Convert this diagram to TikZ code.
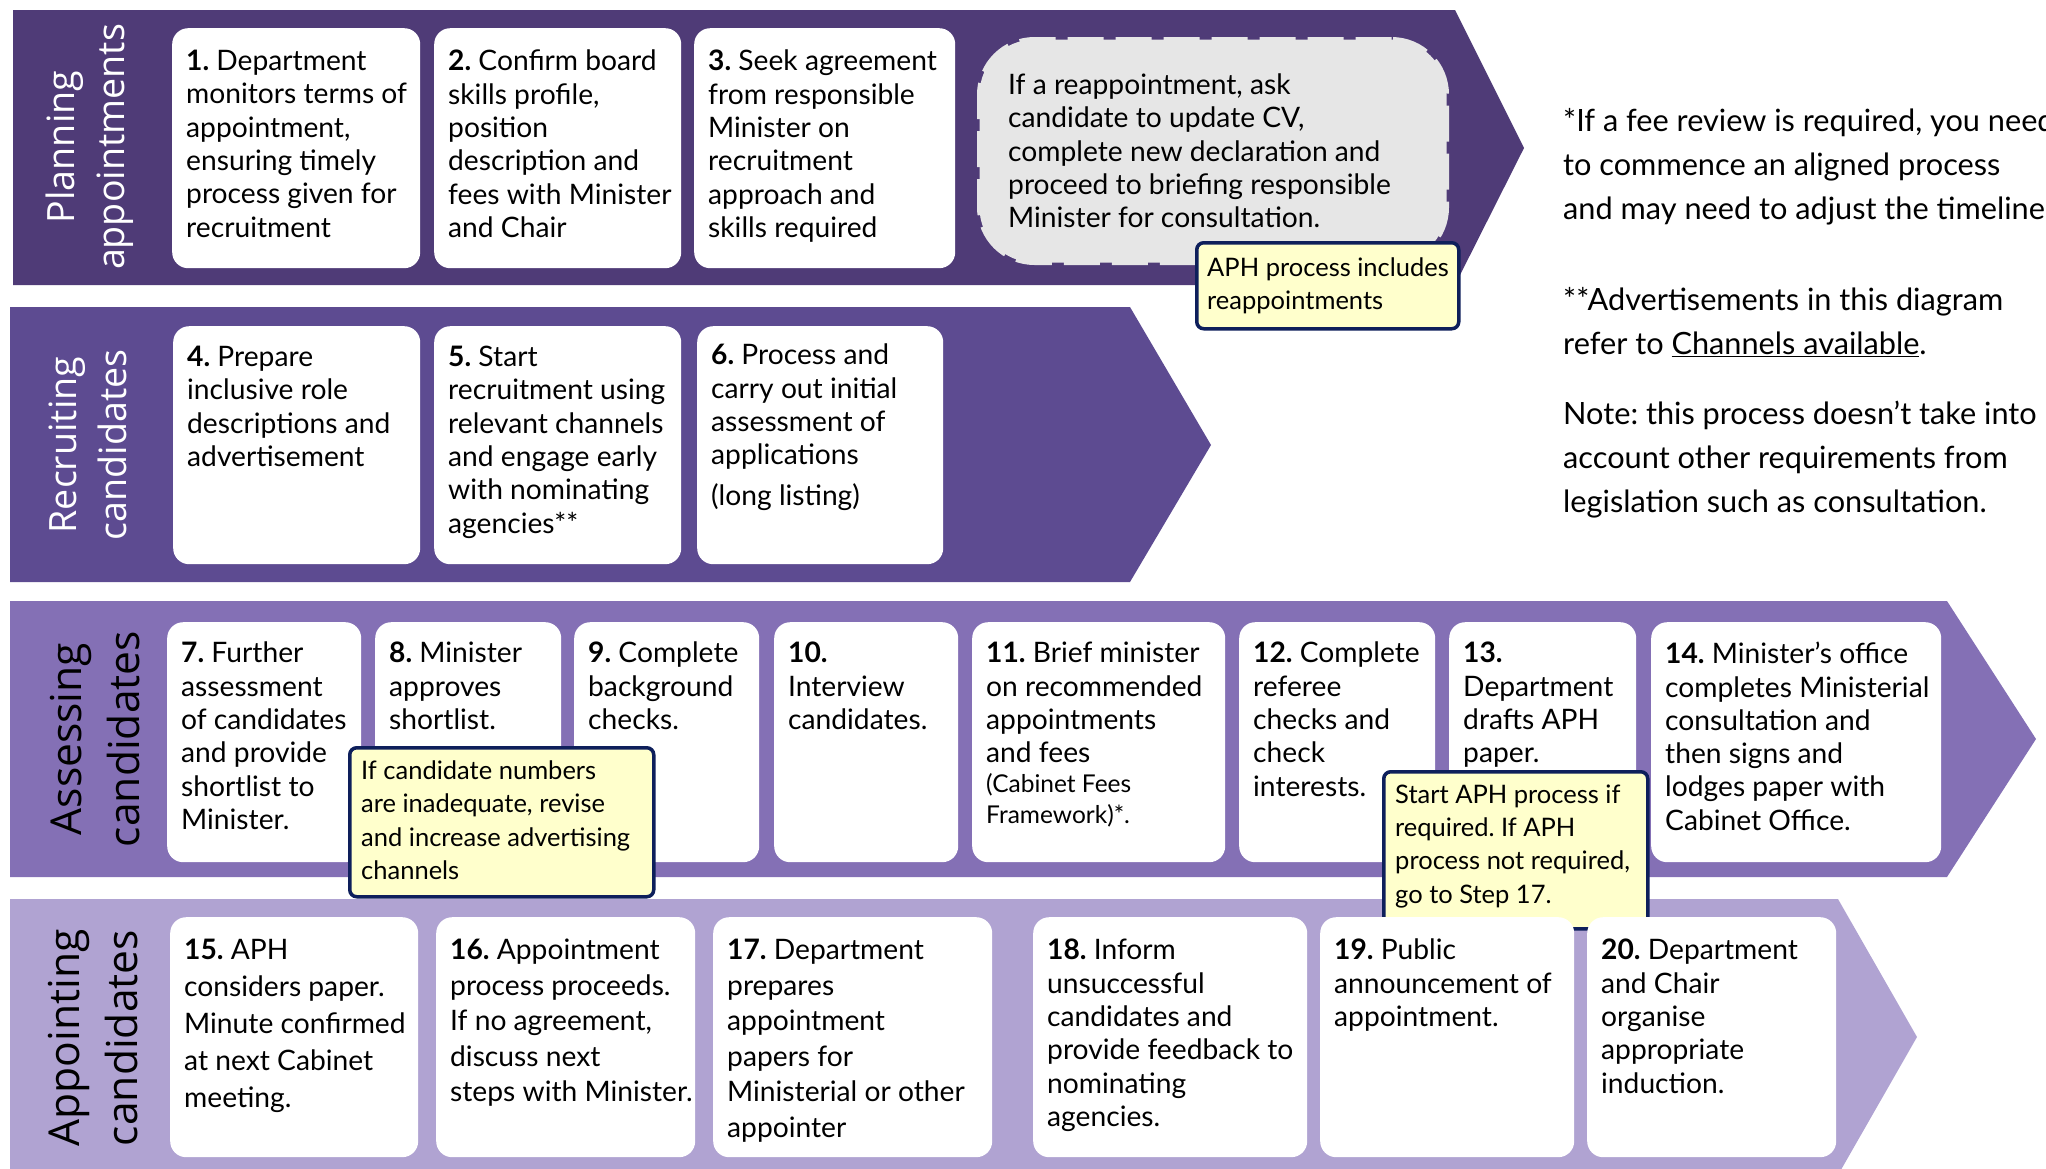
\documentclass[tikz,border=0pt]{standalone}
\usepackage{fontspec}
\setmainfont{Lato}
\newfontfamily\bandfont{Open Sans}
\usetikzlibrary{positioning}
\frenchspacing

\definecolor{bandA}{HTML}{4F3B77}
\definecolor{bandB}{HTML}{5D4B91}
\definecolor{bandC}{HTML}{8470B5}
\definecolor{bandD}{HTML}{B0A3D2}
\definecolor{callgray}{HTML}{E6E6E6}
\definecolor{noteyellow}{HTML}{FFFFCC}
\definecolor{notenavy}{HTML}{0E1F5B}

\tikzset{
  stepbox/.style={fill=white, rounded corners=16, anchor=north west, inner sep=0},
  steptext/.style={align=left, inner sep=0, font=\fontsize{28.2}{33.3}\selectfont},
  steptextD/.style={steptext, font=\fontsize{28.2}{35.5}\selectfont},
  bandlabel/.style={rotate=90, align=center, inner sep=0, font=\bandfont\fontsize{37.6}{50}\selectfont},
  bandlabelbig/.style={bandlabel, font=\bandfont\fontsize{42.6}{58}\selectfont},
  notebox/.style={draw=notenavy, fill=noteyellow, line width=3.5, rounded corners=7,
    anchor=north west, inner sep=0},
  notetext/.style={align=left, inner sep=0, font=\fontsize{25.5}{33.3}\selectfont},
  callout/.style={draw=callgray, fill=callgray, line width=5, dash pattern=on 36 off 12,
    rounded corners=55, anchor=north west, inner sep=0},
  sidenote/.style={anchor=north west, align=left, inner sep=0, font=\fontsize{30.7}{44}\selectfont}
}

\begin{document}
\begin{tikzpicture}[x=1pt, y=-1pt]
  \useasboundingbox (0,0) rectangle (2046,1168);

  % the four stages
  \fill[bandA] (13,10) -- (1455,10) -- (1524,148) -- (1455,285) -- (13,285) -- cycle;
  \fill[bandB] (10,307) -- (1130,307) -- (1211,445) -- (1130,582) -- (10,582) -- cycle;
  \fill[bandC] (10,601) -- (1947,601) -- (2036,739) -- (1947,877) -- (10,877) -- cycle;
  \fill[bandD] (10,899) -- (1838,899) -- (1917,1037) -- (1838,1175) -- (10,1175) -- cycle;

  \node[bandlabel, text=white] (labA) at (90,147) {Planning\\appointments};
  \node[bandlabel, text=white] (labB) at (88,445) {Recruiting\\candidates};
  \node[bandlabelbig] (labC) at (95,739) {Assessing\\candidates};
  \node[bandlabelbig] (labD) at (93,1038) {Appointing\\candidates};

  % planning
  \node[stepbox, minimum width=248, minimum height=240] (b1) at (172,28) {};
  \node[stepbox, minimum width=247, minimum height=240] (b2) at (434,28) {};
  \node[stepbox, minimum width=261, minimum height=240] (b3) at (694,28) {};
  \node[steptext, below right=22pt and 14pt of b1.north west] (t1) {\textbf{1.} Department\\monitors terms of\\appointment,\\ensuring timely\\process given for\\recruitment};
  \node[steptext, below right=22pt and 14pt of b2.north west] (t2) {\textbf{2.} Confirm board\\skills profile,\\position\\description and\\fees with Minister\\and Chair};
  \node[steptext, below right=22pt and 14pt of b3.north west] (t3) {\textbf{3.} Seek agreement\\from responsible\\Minister on\\recruitment\\approach and\\skills required};
  \node[callout, minimum width=467, minimum height=223] (reapp) at (977,37) {};
  \node[steptext, right=31pt of reapp.west] (reapptxt)
    {If a reappointment, ask\\candidate to update CV,\\complete new declaration and\\proceed to briefing responsible\\Minister for consultation.};
  \node[notebox, minimum width=262, minimum height=86] (n1) at (1195,241) {};
  \node[notetext, right=12pt of n1.west] (n1txt) {APH process includes\\reappointments};

  % recruiting
  \node[stepbox, minimum width=247, minimum height=238] (b4) at (173,326) {};
  \node[stepbox, minimum width=247, minimum height=238] (b5) at (434,326) {};
  \node[stepbox, minimum width=246, minimum height=238] (b6) at (697,326) {};
  \node[steptext, below right=20pt and 14pt of b4.north west] (t4) {\textbf{4.} Prepare\\inclusive role\\descriptions and\\advertisement};
  \node[steptext, below right=20pt and 14pt of b5.north west] (t5) {\textbf{5.} Start\\recruitment using\\relevant channels\\and engage early\\with nominating\\agencies**};
  \node[steptext, below right=18pt and 14pt of b6.north west] (t6) {\textbf{6.} Process and\\carry out initial\\assessment of\\applications\\[7pt](long listing)};

  % assessing
  \node[stepbox, minimum width=194, minimum height=240] (b7) at (167,622) {};
  \node[stepbox, minimum width=186, minimum height=240] (b8) at (375,622) {};
  \node[stepbox, minimum width=185, minimum height=240] (b9) at (574,622) {};
  \node[stepbox, minimum width=184, minimum height=240] (b10) at (774,622) {};
  \node[stepbox, minimum width=253, minimum height=240] (b11) at (972,622) {};
  \node[stepbox, minimum width=196, minimum height=240] (b12) at (1239,622) {};
  \node[stepbox, minimum width=187, minimum height=240] (b13) at (1449,622) {};
  \node[stepbox, minimum width=290, minimum height=240] (b14) at (1651,622) {};
  \node[steptext, below right=20pt and 14pt of b7.north west] (t7) {\textbf{7.} Further\\assessment\\of candidates\\and provide\\shortlist to\\Minister.};
  \node[steptext, below right=20pt and 14pt of b8.north west] (t8) {\textbf{8.} Minister\\approves\\shortlist.};
  \node[steptext, below right=20pt and 14pt of b9.north west] (t9) {\textbf{9.} Complete\\background\\checks.};
  \node[steptext, below right=20pt and 14pt of b10.north west] (t10) {\textbf{10.}\\Interview\\candidates.};
  \node[steptext, below right=20pt and 14pt of b11.north west] (t11) {\textbf{11.} Brief minister\\on recommended\\appointments\\and fees\\[-3pt]{\fontsize{24.5}{30}\selectfont (Cabinet Fees}\\[-3pt]{\fontsize{24.5}{30}\selectfont Framework)*.}};
  \node[steptext, below right=20pt and 14pt of b12.north west] (t12) {\textbf{12.} Complete\\referee\\checks and\\check\\interests.};
  \node[steptext, below right=20pt and 14pt of b13.north west] (t13) {\textbf{13.}\\Department\\drafts APH\\paper.};
  \node[steptext, below right=20pt and 14pt of b14.north west] (t14) {\textbf{14.} Minister’s office\\completes Ministerial\\consultation and\\then signs and\\lodges paper with\\Cabinet Office.};
  \node[notebox, minimum width=304, minimum height=149] (n2) at (348,746) {};
  \node[notetext, right=13pt of n2.west, yshift=2pt] (n2txt) {If candidate numbers\\are inadequate, revise\\and increase advertising\\channels};
  \node[notebox, minimum width=264, minimum height=157] (n3) at (1382,770) {};
  \node[notetext, right=13pt of n3.west, yshift=4pt] (n3txt) {Start APH process if\\required. If APH\\process not required,\\go to Step 17.};

  % appointing
  \node[stepbox, minimum width=248, minimum height=240] (b15) at (170,917) {};
  \node[stepbox, minimum width=259, minimum height=240] (b16) at (436,917) {};
  \node[stepbox, minimum width=279, minimum height=240] (b17) at (713,917) {};
  \node[stepbox, minimum width=274, minimum height=240] (b18) at (1033,917) {};
  \node[stepbox, minimum width=254, minimum height=240] (b19) at (1320,917) {};
  \node[stepbox, minimum width=249, minimum height=240] (b20) at (1587,917) {};
  \node[steptextD, font=\fontsize{28.2}{37}\selectfont, below right=22pt and 14pt of b15.north west] (t15) {\textbf{15.} APH\\considers paper.\\Minute confirmed\\at next Cabinet\\meeting.};
  \node[steptextD, below right=22pt and 14pt of b16.north west] (t16) {\textbf{16.} Appointment\\process proceeds.\\If no agreement,\\discuss next\\steps with Minister.};
  \node[steptextD, below right=22pt and 14pt of b17.north west] (t17) {\textbf{17.} Department\\prepares\\appointment\\papers for\\Ministerial or other\\appointer};
  \node[steptext, below right=22pt and 14pt of b18.north west] (t18) {\textbf{18.} Inform\\unsuccessful\\candidates and\\provide feedback to\\nominating\\agencies.};
  \node[steptext, below right=22pt and 14pt of b19.north west] (t19) {\textbf{19.} Public\\announcement of\\appointment.};
  \node[steptext, below right=22pt and 14pt of b20.north west] (t20) {\textbf{20.} Department\\and Chair\\organise\\appropriate\\induction.};

  % notes on the right
  \node[sidenote] (fee) at (1563,108) {*If a fee review is required, you need\\to commence an aligned process\\and may need to adjust the timeline.};
  \node[sidenote] (ads) at (1563,287) {**Advertisements in this diagram\\refer to \underline{Channels available}.};
  \node[sidenote] (legis) at (1563,401) {Note: this process doesn’t take into\\account other requirements from\\legislation such as consultation.};
\end{tikzpicture}
\end{document}
